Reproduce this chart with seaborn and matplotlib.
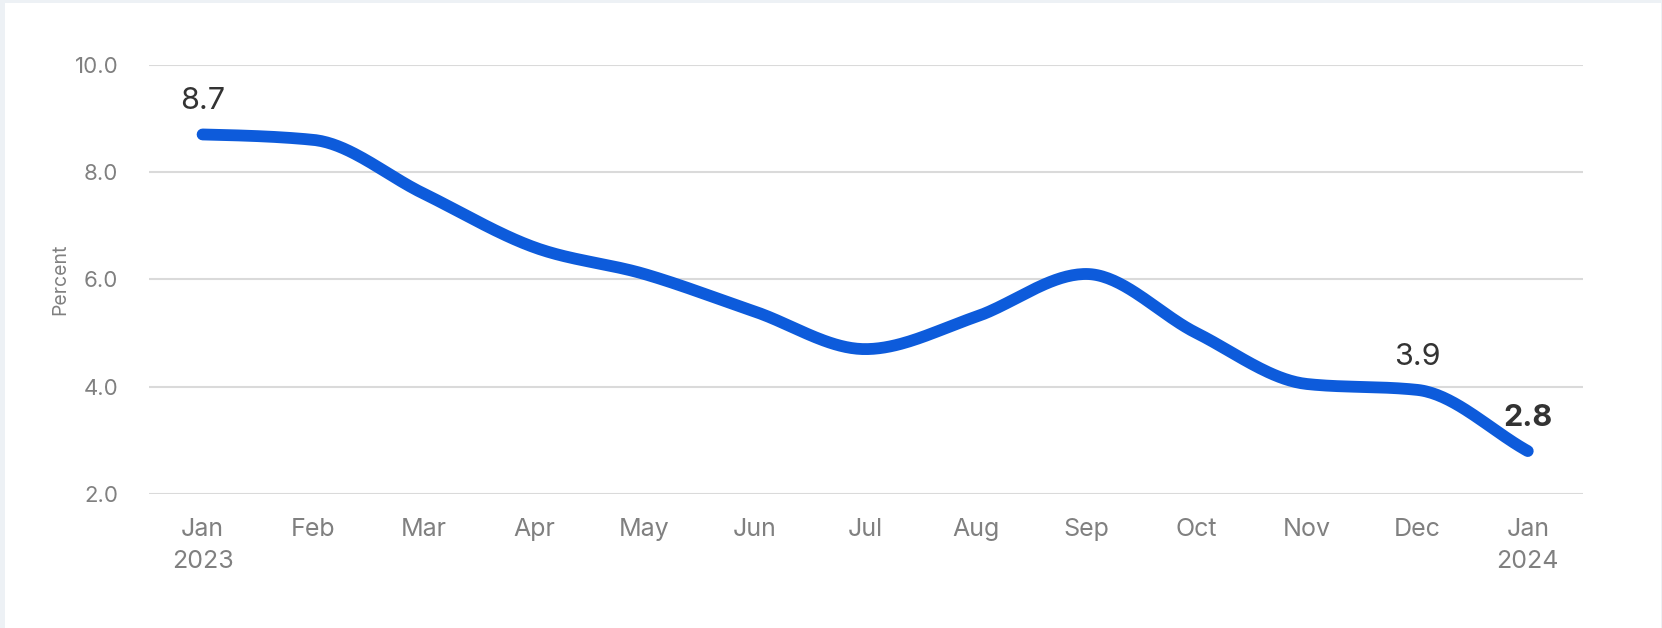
import numpy as np
import pandas as pd
import matplotlib
matplotlib.use("Agg")
import matplotlib.pyplot as plt
from matplotlib.patches import Rectangle
import seaborn as sns

months = ["Jan\n2023", "Feb", "Mar", "Apr", "May", "Jun", "Jul", "Aug", "Sep",
          "Oct", "Nov", "Dec", "Jan\n2024"]
values = [8.7, 8.6, 7.6, 6.6, 6.1, 5.4, 4.7, 5.3, 6.1, 5.0, 4.05, 3.94, 2.8]
yticks = [2.0, 4.0, 6.0, 8.0, 10.0]
labelled = {0: "normal", 11: "normal", 12: "bold"}

sns.set_theme(style="white")
plt.rcParams['font.family'] = ['Inter', 'DejaVu Sans']


def monotone_curve(y, n=40):
    """Monotone cubic path through the points (drawing only)."""
    y = np.asarray(y, float)
    x = np.arange(len(y), dtype=float)
    s = np.diff(y)
    m = np.zeros_like(y)
    for i in range(1, len(y) - 1):
        s0, s1 = s[i - 1], s[i]
        p = (s0 + s1) / 2
        m[i] = (np.sign(s0) + np.sign(s1)) * min(abs(s0), abs(s1), 0.5 * abs(p))
    m[0] = (3 * s[0] - m[1]) / 2
    m[-1] = s[-1]
    xs, ys = [], []
    for i in range(len(s)):
        t = np.linspace(0, 1, n, endpoint=(i == len(s) - 1))
        h00 = 2 * t**3 - 3 * t**2 + 1
        h10 = t**3 - 2 * t**2 + t
        h01 = -2 * t**3 + 3 * t**2
        h11 = t**3 - t**2
        xs.append(x[i] + t)
        ys.append(h00 * y[i] + h10 * m[i] + h01 * y[i + 1] + h11 * m[i + 1])
    return np.concatenate(xs), np.concatenate(ys)


cx, cy = monotone_curve(values)
curve = pd.DataFrame({"x": cx, "y": cy})

fig = plt.figure(figsize=(16.62, 6.28), dpi=100, facecolor="#edf1f5")
bg = Rectangle((5 / 1662, 0), 1656 / 1662, 1 - 3 / 628,
               transform=fig.transFigure, facecolor="white",
               edgecolor="none", zorder=-10)
fig.patches.append(bg)
ax = fig.add_axes([149 / 1662, 1 - 494 / 628, (1583 - 149) / 1662, (494 - 64.7) / 628])
ax.set_zorder(5)
ax.set_facecolor("none")

sns.lineplot(data=curve, x="x", y="y", ax=ax, color="#0d5bdb", linewidth=8.5,
             solid_capstyle="round", sort=False, zorder=3)

ax.set_xlim(-0.485, 12.5)
ax.set_ylim(2.0, 10.0)
ax.set_yticks(yticks)
ax.set_yticklabels([f"{v:.1f}" for v in yticks])
ax.set_xticks(range(len(months)))
ax.set_xticklabels(months, linespacing=1.5)
ax.tick_params(axis="y", length=0, pad=22, labelsize=16, labelcolor="#808080")
ax.tick_params(axis="x", length=0, pad=17, labelsize=18, labelcolor="#808080")
ax.yaxis.grid(True, color="#dadada", linewidth=1.5)
ax.xaxis.grid(False)
for s in ax.spines.values():
    s.set_visible(False)
ax.set_xlabel("")
ax.set_ylabel("Percent", fontsize=14, color="#808080", labelpad=4)

for i, w in labelled.items():
    ax.annotate(f"{values[i]:.1f}", (i, values[i]), xytext=(0, 24),
                textcoords="offset points", ha="center", va="center",
                fontsize=22, color="#333333", fontweight=w, zorder=4)

fig.savefig("out.png", dpi=100, facecolor=fig.get_facecolor())
